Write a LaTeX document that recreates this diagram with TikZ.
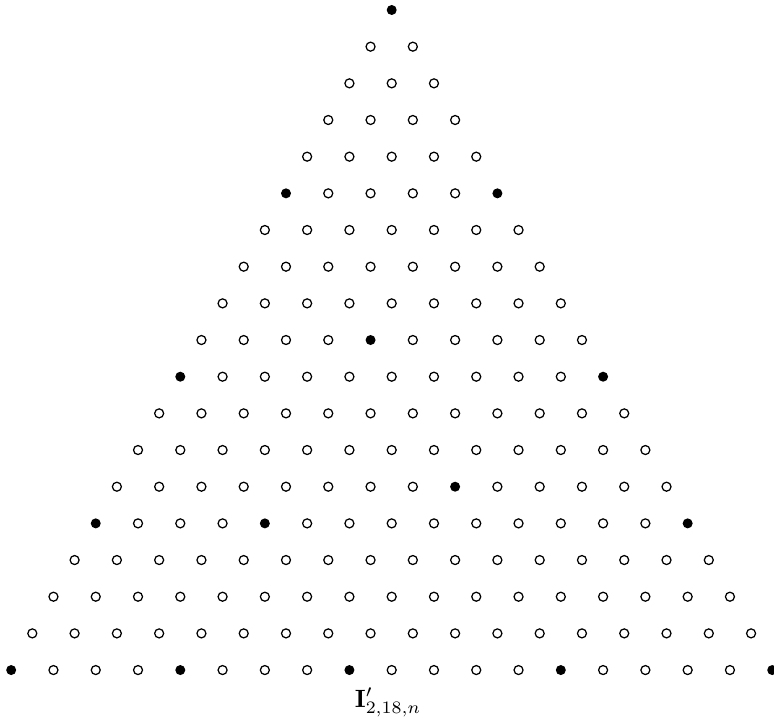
\documentclass[tikz,border=0pt]{standalone}
\usepackage{amsmath}
\makeatletter
% filled points, given as row/position
\def\filledset{0/0,5/0,5/5,9/4,10/0,10/10,13/8,14/0,14/4,14/14,18/0,18/4,18/8,18/13,18/18}
\newcommand{\setdotkind}[2]{%
  \edef\dotkey{,#1/#2,}%
  \edef\@tempa{\noexpand\in@{\dotkey}{,\filledset,}}\@tempa
  \ifin@\def\dotkind{full}\else\def\dotkind{hollow}\fi}
\makeatother

\begin{document}
\begin{tikzpicture}[
    x=0.4pt, y=-0.4pt,
    hollow/.style={draw=black, fill=white, circle, inner sep=0pt, minimum size=3.6pt, line width=0.5pt},
    full/.style={fill=black, circle, inner sep=0pt, minimum size=4pt},
    caption/.style={anchor=base, font=\normalsize}
  ]
    \useasboundingbox (0,0) rectangle (774,725);

    % Points of the triangle
    \foreach \i in {0,...,18} {
      \foreach \j in {0,...,\i} {
        \setdotkind{\i}{\j}
        \node[\dotkind] (p-\i-\j) at ({391.7+42.28*(\j-\i/2)}, {10+36.67*\i}) {};
      }
    }

    % Label
    \node[caption] (name) at (388,707) {$\mathbf{I}'_{2,18,n}$};
  \end{tikzpicture}
\end{document}
